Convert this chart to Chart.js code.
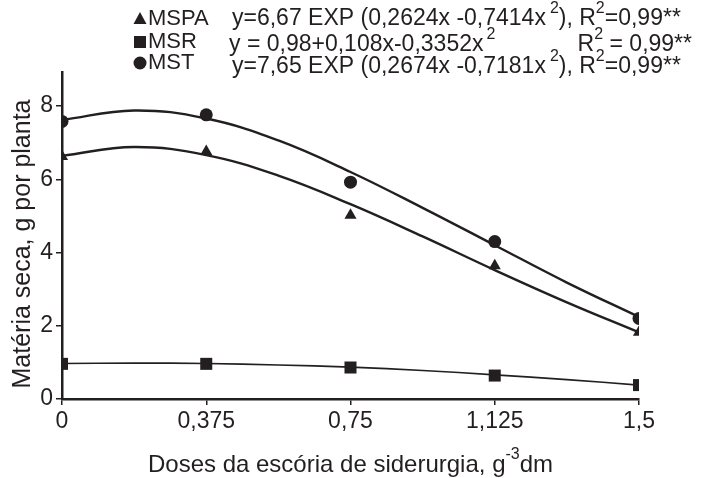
<!DOCTYPE html>
<html>
<head>
<meta charset="utf-8">
<script src="https://cdn.jsdelivr.net/npm/chart.js@4.4.1/dist/chart.umd.min.js"></script>
<style>
  html, body { margin: 0; padding: 0; background: #fff; }
  #wrap { width: 701px; height: 478px; }
</style>
</head>
<body>
<div id="wrap"><canvas id="chart1" width="701" height="478"></canvas></div>
<script>
// doses de escória (g dm-3) e matéria seca observada
const doses = [0, 0.375, 0.75, 1.125, 1.5];
const doseLabels = ['0', '0,375', '0,75', '1,125', '1,5'];
const mspa = [6.62, 6.76, 5.02, 3.64, 1.82];
const msr = [0.96, 0.96, 0.86, 0.64, 0.38];
const mst = [7.58, 7.76, 5.92, 4.30, 2.20];

// curvas ajustadas
const fitX = [0, 0.1875, 0.375, 0.5625, 0.75, 0.9375, 1.125, 1.3125, 1.5];
const mspaFit = [6.64, 6.88, 6.66, 6.10, 5.32, 4.44, 3.52, 2.64, 1.82];
const msrFit = [0.97, 0.98, 0.97, 0.93, 0.87, 0.78, 0.66, 0.53, 0.38];
const mstFit = [7.62, 7.88, 7.66, 7.06, 6.20, 5.22, 4.20, 3.18, 2.24];

const yTicks = [0, 2, 4, 6, 8];

const ink = '#231f20';
const fam = '"Liberation Sans", Arial, sans-serif';

function pts(xs, ys) {
  return xs.map((x, i) => ({x: x, y: ys[i]}));
}

function fitLine(ys, w) {
  return {
    data: pts(fitX, ys),
    showLine: true,
    borderColor: ink,
    borderWidth: w,
    pointRadius: 0,
    tension: 0.4,
    fill: false
  };
}

function marks(ys, style, r) {
  return {
    data: pts(doses, ys),
    showLine: false,
    pointStyle: style,
    pointRadius: r,
    backgroundColor: ink,
    borderColor: ink,
    borderWidth: 0
  };
}

// texto com expoentes: {sup, gap} sobe e reduz a fonte
function rich(ctx, parts, x, y, size) {
  let cx = x;
  parts.forEach(p => {
    const sup = typeof p !== 'string';
    const t = sup ? p.sup : p;
    if (sup && p.gap) cx += p.gap;
    ctx.font = (sup ? Math.round(size * 0.68) : size) + 'px ' + fam;
    ctx.fillText(t, cx, sup ? y - size * 0.45 : y);
    cx += ctx.measureText(t).width;
  });
  return cx;
}

function richWidth(ctx, parts, size) {
  let w = 0;
  parts.forEach(p => {
    const sup = typeof p !== 'string';
    if (sup && p.gap) w += p.gap;
    ctx.font = (sup ? Math.round(size * 0.68) : size) + 'px ' + fam;
    w += ctx.measureText(sup ? p.sup : p).width;
  });
  return w;
}

const annotations = {
  id: 'annotations',
  afterDraw(chart) {
    const ctx = chart.ctx;
    const area = chart.chartArea;
    ctx.save();
    ctx.fillStyle = ink;
    ctx.textBaseline = 'middle';
    ctx.textAlign = 'left';

    // legenda
    const mx = 140, tx = 148;
    const rows = [19, 42, 63];
    ctx.beginPath();
    ctx.moveTo(mx, rows[0] - 7);
    ctx.lineTo(mx + 6.5, rows[0] + 5);
    ctx.lineTo(mx - 6.5, rows[0] + 5);
    ctx.closePath();
    ctx.fill();
    ctx.fillRect(mx - 6, rows[1] - 6, 12, 12);
    ctx.beginPath();
    ctx.arc(mx, rows[2], 6.5, 0, Math.PI * 2);
    ctx.fill();

    ctx.font = '22px ' + fam;
    ctx.fillText('MSPA', tx, rows[0]);
    ctx.fillText('MSR', tx, rows[1]);
    ctx.fillText('MST', tx, rows[2]);

    const fs = 23;
    rich(ctx, ['y=6,67 EXP (0,2624x -0,7414x', {sup: '2', gap: 4}, '), R', {sup: '2'}, '=0,99**'], 232, rows[0], fs);
    rich(ctx, ['y = 0,98+0,108x-0,3352x', {sup: '2', gap: 3}], 229, rows[1] + 3, fs);
    const r2 = ['R', {sup: '2'}, ' = 0,99**'];
    rich(ctx, r2, 692 - richWidth(ctx, r2, fs), rows[1] + 3, fs);
    rich(ctx, ['y=7,65 EXP (0,2674x -0,7181x', {sup: '2', gap: 4}, '), R', {sup: '2'}, '=0,99**'], 232, rows[2] + 4, fs);

    // títulos dos eixos
    const xt = ['Doses da escória de siderurgia, g', {sup: '-3'}, 'dm'];
    const xw = richWidth(ctx, xt, 24);
    rich(ctx, xt, (area.left + area.right) / 2 - xw / 2, 465, 24);

    ctx.translate(23, 244);
    ctx.rotate(-Math.PI / 2);
    ctx.textAlign = 'center';
    ctx.font = '25px ' + fam;
    ctx.fillText('Matéria seca, g por planta', 0, 0);
    ctx.restore();
  }
};

new Chart(document.getElementById('chart1').getContext('2d'), {
  type: 'scatter',
  data: {
    datasets: [
      fitLine(mstFit, 2.4),
      fitLine(mspaFit, 2.4),
      fitLine(msrFit, 1.6),
      marks(mst, 'circle', 6.5),
      marks(mspa, 'triangle', 7),
      marks(msr, 'rect', 8.5)
    ]
  },
  options: {
    responsive: false,
    animation: false,
    layout: { padding: { top: 72, right: 62, left: 0, bottom: 0 } },
    plugins: {
      legend: { display: false },
      tooltip: { enabled: false }
    },
    elements: { point: { hoverRadius: 0 } },
    scales: {
      x: {
        type: 'linear',
        min: 0,
        max: 1.5,
        afterBuildTicks: s => { s.ticks = doses.map(v => ({value: v})); },
        afterFit: s => { s.height = 79; },
        border: { display: true, color: ink, width: 2.5 },
        grid: { drawOnChartArea: false, drawTicks: true, tickLength: 6, color: ink, lineWidth: 1.5 },
        ticks: {
          color: ink,
          font: { family: fam, size: 23 },
          padding: 3,
          maxRotation: 0,
          callback: v => doseLabels[doses.indexOf(v)]
        }
      },
      y: {
        min: 0,
        max: 8.93,
        afterBuildTicks: s => { s.ticks = yTicks.map(v => ({value: v})); },
        afterFit: s => { s.width = 62; },
        border: { display: true, color: ink, width: 2.5 },
        grid: { drawOnChartArea: false, drawTicks: true, tickLength: 6, color: ink, lineWidth: 1.5 },
        ticks: {
          color: ink,
          font: { family: fam, size: 23 },
          padding: 3
        }
      }
    }
  },
  plugins: [annotations]
});
</script>
</body>
</html>
